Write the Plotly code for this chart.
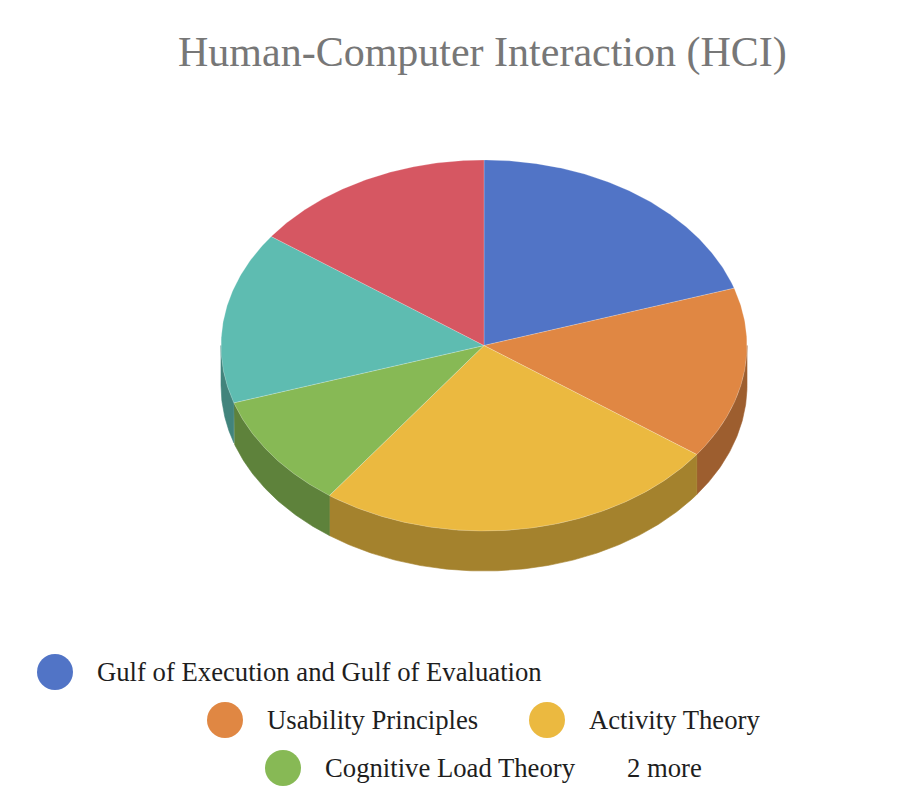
import math
import plotly.graph_objects as go

# ---- data ----
labels = ["Gulf of Execution and Gulf of Evaluation", "Usability Principles",
          "Activity Theory", "Cognitive Load Theory", "Fitts's Law", "Mental Models"]
values = [20, 15, 25, 10, 15, 15]
colors = ["#5174c6", "#e08743", "#ebb940", "#87b955", "#5ebcb1", "#d65762"]
title_text = "Human-Computer Interaction (HCI)"
legend_rows = [[0], [1, 2], [3]]
more_text = "2 more"

# ---- layout constants (pixel space) ----
W, H = 922, 804
CX, CY, RX, RY, DEPTH = 484, 345.5, 263, 185.5, 40


def darker(hexc, f=0.7):
    h = hexc.lstrip("#")
    r, g, b = (int(h[i:i + 2], 16) for i in (0, 2, 4))
    return "rgb(%d,%d,%d)" % (round(r * f), round(g * f), round(b * f))


def pt(t_deg, dy=0.0):
    t = math.radians(t_deg)
    return CX + RX * math.sin(t), CY - RY * math.cos(t) + dy


def arc(a0, a1, dy=0.0):
    n = max(2, int(abs(a1 - a0) * 2))
    xs, ys = [], []
    for i in range(n + 1):
        x, y = pt(a0 + (a1 - a0) * i / n, dy)
        xs.append(x)
        ys.append(y)
    return xs, ys


total = sum(values)
angles = []
acc = 0.0
for v in values:
    a0 = acc / total * 360
    acc += v
    angles.append((a0, acc / total * 360))

fig = go.Figure()

# sides (front half only: 90..270 deg)
for (a0, a1), c, lab in zip(angles, colors, labels):
    s0, s1 = max(a0, 90), min(a1, 270)
    if s1 <= s0:
        continue
    tx, ty = arc(s0, s1)
    bx, by = arc(s1, s0, DEPTH)
    fig.add_trace(go.Scatter(x=tx + bx + [tx[0]], y=ty + by + [ty[0]], mode="lines",
                             fill="toself", fillcolor=darker(c),
                             line=dict(color=darker(c), width=0.6),
                             hoverinfo="skip", showlegend=False))

# top faces
for (a0, a1), c, lab, v in zip(angles, colors, labels, values):
    ax, ay = arc(a0, a1)
    fig.add_trace(go.Scatter(x=[CX] + ax + [CX], y=[CY] + ay + [CY], mode="lines",
                             fill="toself", fillcolor=c,
                             line=dict(color="rgba(255,255,255,0.3)", width=0.7),
                             name=lab, text=f"{lab}: {v}", hoverinfo="text",
                             hoveron="fills", showlegend=False))

# custom legend
FONT = "Liberation Serif, Times New Roman, serif"
row_y = [672, 720, 768]
row_items = [[(55, 0)], [(225, 1), (547, 2)], [(283, 3)]]
annotations = []
mx, my, mc = [], [], []
for ry_, items in zip(row_y, row_items):
    for cxl, idx in items:
        mx.append(cxl)
        my.append(ry_)
        mc.append(colors[idx])
        annotations.append(dict(x=cxl + 40, y=ry_, xref="x", yref="y", text=labels[idx],
                                showarrow=False, xanchor="left", yanchor="middle",
                                font=dict(family=FONT, size=26.7, color="#1e1e1e")))
annotations.append(dict(x=625, y=768, xref="x", yref="y", text=more_text,
                        showarrow=False, xanchor="left", yanchor="middle",
                        font=dict(family=FONT, size=26.7, color="#1e1e1e")))
fig.add_trace(go.Scatter(x=mx, y=my, mode="markers",
                         marker=dict(size=36, color=mc, line=dict(width=0)),
                         hoverinfo="skip", showlegend=False))

annotations.append(dict(x=482, y=52, xref="x", yref="y", text=title_text, showarrow=False,
                        xanchor="center", yanchor="middle",
                        font=dict(family=FONT, size=42, color="#777777")))

fig.update_layout(
    width=W, height=H, autosize=False,
    margin=dict(l=0, r=0, t=0, b=0),
    paper_bgcolor="white", plot_bgcolor="white",
    xaxis=dict(range=[0, W], visible=False, fixedrange=True),
    yaxis=dict(range=[H, 0], visible=False, fixedrange=True),
    annotations=annotations,
    showlegend=False,
)

fig.write_html("out.html", config={"displayModeBar": False})
